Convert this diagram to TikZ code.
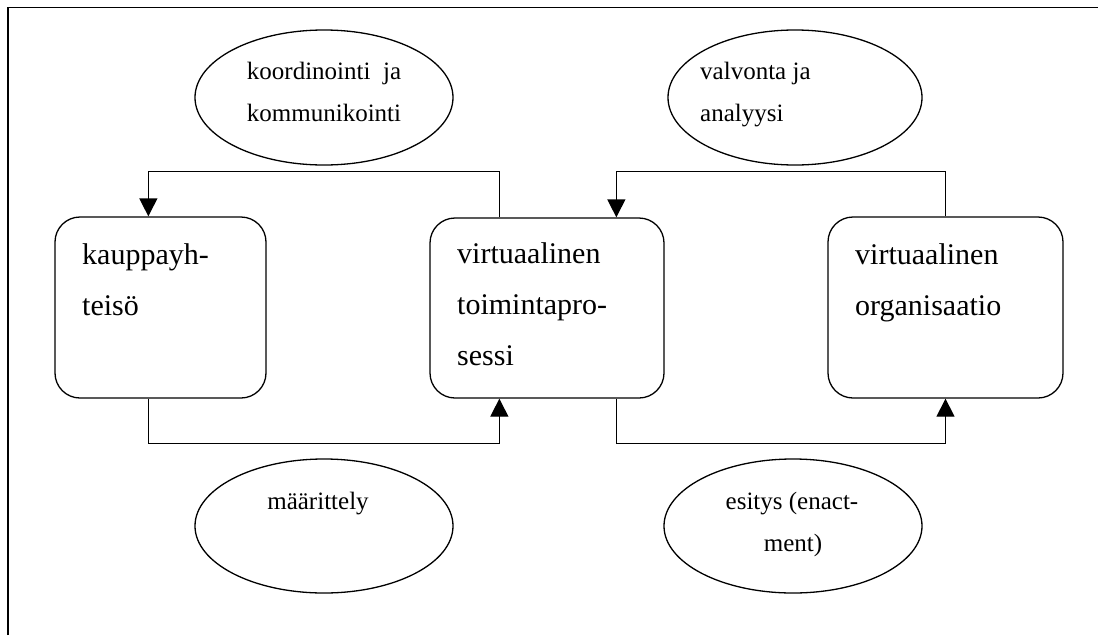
\documentclass[tikz,border=0pt]{standalone}
\usepackage{fontspec}
\setmainfont{Liberation Serif}
\usetikzlibrary{arrows.meta,shapes.geometric}

\begin{document}
\begin{tikzpicture}[x=1pt,y=-1pt,
  stagebox/.style={draw,line width=1.3pt,rectangle,rounded corners=25pt,inner sep=0pt},
  bubble/.style={draw,line width=1.3pt,ellipse,inner sep=0pt},
  boxtxt/.style={anchor=base west,inner sep=0pt,font=\fontsize{30}{36}\selectfont},
  bubtxt/.style={anchor=base,inner sep=0pt,font=\fontsize{25}{30}\selectfont},
  bubtxtl/.style={bubtxt,anchor=base west},
  conn/.style={line width=1.3pt,-{Triangle[width=18pt,length=18pt]}}]

\useasboundingbox (0,0) rectangle (1098,635);

% frame (left and top edges)
\draw[line width=1.3pt] (8,635) -- (8,7.5) -- (1098,7.5);

% stages
\node[stagebox,minimum width=211pt,minimum height=181pt] (b1) at (160.5,307.5) {};
\node[stagebox,minimum width=234pt,minimum height=180pt] (b2) at (547,308) {};
\node[stagebox,minimum width=235pt,minimum height=181pt] (b3) at (945.5,307.5) {};

\node[boxtxt] (b1l1) at (82,264) {kauppayh-};
\node[boxtxt] (b1l2) at (82,315) {teisö};
\node[boxtxt] (b2l1) at (457,263) {virtuaalinen};
\node[boxtxt] (b2l2) at (457,314) {toimintapro-};
\node[boxtxt] (b2l3) at (457,365) {sessi};
\node[boxtxt] (b3l1) at (855,264) {virtuaalinen};
\node[boxtxt] (b3l2) at (855,315) {organisaatio};

% activities
\node[bubble,minimum width=258pt,minimum height=135pt] (e1) at (324,97.5) {};
\node[bubble,minimum width=254pt,minimum height=135pt] (e2) at (795,97.5) {};
\node[bubble,minimum width=258pt,minimum height=134pt] (e3) at (324,526) {};
\node[bubble,minimum width=258pt,minimum height=134pt] (e4) at (793,526) {};

\node[bubtxt] (e1l1) at (324,79) {koordinointi\ \ ja};
\node[bubtxt] (e1l2) at (324,121) {kommunikointi};
\node[bubtxtl] (e2l1) at (700,79) {valvonta ja};
\node[bubtxtl] (e2l2) at (700,121) {analyysi};
\node[bubtxt] (e3l1) at (318,509) {määrittely};
\node[bubtxt] (e4l1) at (792,509) {esitys (enact-};
\node[bubtxt] (e4l2) at (793,551) {ment)};

% connector ends on the stage boxes
\path (b1.north west) ++(94,0) coordinate (b1t);
\path (b1.south west) ++(94,0) coordinate (b1b);
\path (b2.north west) ++(70,0) coordinate (b2tl);
\path (b2.north west) ++(187,0) coordinate (b2tr);
\path (b2.south west) ++(70,0) coordinate (b2bl);
\path (b2.south west) ++(187,0) coordinate (b2br);
\path (b3.north) coordinate (b3t);
\path (b3.south) coordinate (b3b);

% feedback loops above
\draw[conn] (b2tl) -- ++(0,-46) -| (b1t);
\draw[conn] (b3t) -- ++(0,-45) -| (b2tr);

% forward flow below
\draw[conn] (b1b) -- ++(0,45) -| (b2bl);
\draw[conn] (b2br) -- ++(0,45) -| (b3b);

\end{tikzpicture}
\end{document}
